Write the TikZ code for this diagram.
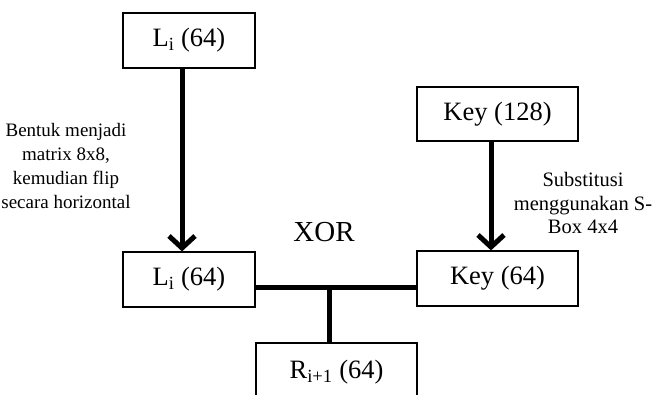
\documentclass[tikz,border=0pt]{standalone}
\usepackage{fontspec}
\setmainfont{Liberation Serif}
\usetikzlibrary{arrows.meta}
\tikzset{
  boxnode/.style={draw, line width=1.2pt, inner sep=0pt, font=\fontsize{26.5}{29}\selectfont},
  lbl/.style={align=center, font=\fontsize{19}{23.7}\selectfont, inner sep=0pt},
  thick arrow/.style={line width=5pt, -{Straight Barb[length=12pt,width=26pt,line width=5pt]}},
  thick line/.style={line width=5pt}
}
\begin{document}
\begin{tikzpicture}[x=1pt,y=-1pt]
\useasboundingbox (0,0) rectangle (658,394);
\clip (0,0) rectangle (658,394);
\node[boxnode, minimum width=132pt, minimum height=55pt] (L1) at (189,40.5) {L\textsubscript{i} (64)};
\node[boxnode, minimum width=132pt, minimum height=55pt] (L2) at (189,279.5) {L\textsubscript{i} (64)};
\node[boxnode, minimum width=161pt, minimum height=54pt] (K1) at (497.5,114) {Key (128)};
\node[boxnode, minimum width=161pt, minimum height=55pt] (K2) at (497.5,278.5) {Key (64)};
\node[boxnode, minimum width=161pt, minimum height=70pt] (R) at (336.5,378) {};
\node[font=\fontsize{26.5}{29}\selectfont] (Rt) at (336.5,372) {R\textsubscript{i+1} (64)};
\node[font=\fontsize{29}{32}\selectfont] (xor) at (324,232) {XOR};
\node[lbl] (lab1) at (66,166) {Bentuk menjadi\\matrix 8x8,\\kemudian flip\\secara horizontal};
\node[lbl, font=\fontsize{20.5}{23.7}\selectfont] (lab2) at (583,203) {Substitusi\\menggunakan S-\\Box 4x4};
\draw[thick arrow] (L1.south -| 182,0) -- (L2.north -| 182,0);
\draw[thick arrow] (K1.south -| 491,0) -- (K2.north -| 491,0);
\coordinate (J) at (329,287);
\draw[thick line] (L2.east |- J) -- (K2.west |- J);
\draw[thick line] (J) -- (R.north -| J);
\end{tikzpicture}
\end{document}
